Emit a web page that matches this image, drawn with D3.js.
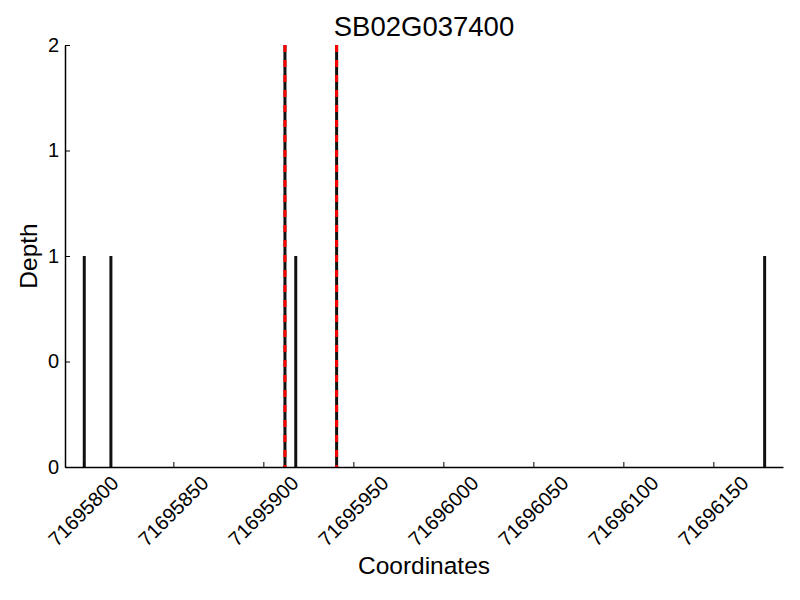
<!DOCTYPE html>
<html lang="en">
<head>
  <meta charset="UTF-8" />
  <title>SB02G037400 depth</title>
  <style>
    body {
      margin: 0;
      background: #fff;
      font-family: "Liberation Sans", Arial, sans-serif;
    }
  </style>
  <script src="https://d3js.org/d3.v7.min.js"></script>
</head>
<body>
  <div id="chart"></div>
  <script>
    const width = 800;
    const height = 600;

    // data
    const title = "SB02G037400";
    const positions = [71695800.5, 71695815.3, 71695918, 71696178.5];
    const depths = [1, 1, 1, 1];
    const markers = [71695912, 71695940.7];
    const xDomain = [71695789.8, 71696188.7];
    const xTicks = [71695800, 71695850, 71695900, 71695950, 71696000, 71696050, 71696100, 71696150];
    const yTicks = [0, 0.5, 1, 1.5, 2];
    const yTickLabels = ["0", "0", "1", "1", "2"];

    const plotLeft = 65, plotRight = 783, plotTop = 45, plotBottom = 467;

    const svg = d3.select("#chart")
      .append("svg")
      .attr("width", width)
      .attr("height", height);

    const x = d3.scaleLinear().domain(xDomain).range([plotLeft, plotRight]);
    const y = d3.scaleLinear().domain([0, 2]).range([plotBottom, plotTop]);

    // depth bars
    svg.selectAll(".bar")
      .data(positions.map((p, i) => ({ p, d: depths[i] })))
      .enter()
      .append("line")
      .attr("class", "bar")
      .attr("x1", d => x(d.p))
      .attr("x2", d => x(d.p))
      .attr("y1", y(0))
      .attr("y2", d => y(d.d))
      .attr("stroke", "#111")
      .attr("stroke-width", 3);

    // marker lines: black under, red dashes on top
    markers.forEach(m => {
      svg.append("line")
        .attr("x1", x(m)).attr("x2", x(m))
        .attr("y1", y(0)).attr("y2", y(2))
        .attr("stroke", "#111")
        .attr("stroke-width", 3);
      svg.append("line")
        .attr("x1", x(m)).attr("x2", x(m))
        .attr("y1", y(2)).attr("y2", y(0))
        .attr("stroke", "#f00")
        .attr("stroke-width", 3)
        .attr("stroke-dasharray", "7,8");
    });

    // x axis, ticks pointing up
    const xAxis = svg.append("g")
      .attr("transform", `translate(0,${plotBottom})`)
      .call(d3.axisBottom(x).tickValues(xTicks).tickSizeInner(-5).tickSizeOuter(0).tickFormat(""));
    xAxis.select(".domain").attr("stroke", "#000").attr("stroke-width", 1.5);
    xAxis.selectAll(".tick line").attr("stroke", "#000");

    svg.selectAll(".xlabel")
      .data(xTicks)
      .enter()
      .append("text")
      .attr("class", "xlabel")
      .attr("transform", d => `translate(${x(d)},${plotBottom + 44}) rotate(-45)`)
      .attr("text-anchor", "middle")
      .attr("dominant-baseline", "central")
      .attr("font-size", 20)
      .text(d => d);

    // y axis, ticks pointing right
    const yAxis = svg.append("g")
      .attr("transform", `translate(${plotLeft},0)`)
      .call(d3.axisLeft(y).tickValues(yTicks).tickSizeInner(-5).tickSizeOuter(0)
        .tickPadding(6)
        .tickFormat((d, i) => yTickLabels[i]));
    yAxis.select(".domain").attr("stroke", "#000").attr("stroke-width", 1.5);
    yAxis.selectAll(".tick line").attr("stroke", "#000");
    yAxis.selectAll(".tick text")
      .attr("font-size", 20)
      .attr("font-family", "Liberation Sans, Arial, sans-serif")
      .attr("fill", "#000");

    // titles
    svg.append("text")
      .attr("x", (plotLeft + plotRight) / 2)
      .attr("y", 36)
      .attr("text-anchor", "middle")
      .attr("font-size", 27.5)
      .text(title);

    svg.append("text")
      .attr("x", (plotLeft + plotRight) / 2)
      .attr("y", 574)
      .attr("text-anchor", "middle")
      .attr("font-size", 24.5)
      .text("Coordinates");

    svg.append("text")
      .attr("transform", `translate(37,${(plotTop + plotBottom) / 2}) rotate(-90)`)
      .attr("text-anchor", "middle")
      .attr("font-size", 24.5)
      .text("Depth");
  </script>
</body>
</html>
